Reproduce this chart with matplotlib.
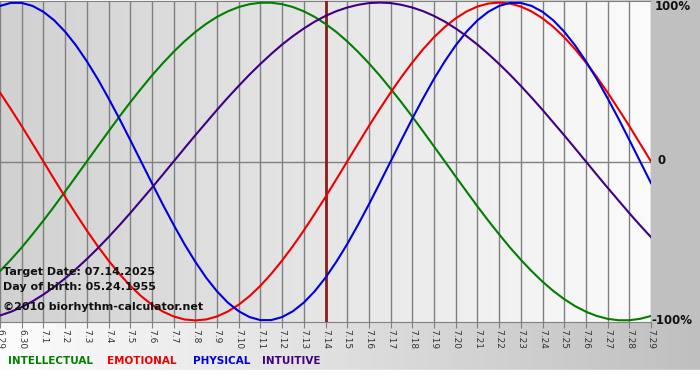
import numpy as np
import matplotlib
matplotlib.use("Agg")
import matplotlib.pyplot as plt

# dates shown on the x axis (one per day)
dates = ["6.29", "6.30"] + ["7." + str(d) for d in range(1, 30)]

# cycle values, one every half day (6.29 .. 7.29)
physical = [0.979, 0.998, 0.998, 0.979, 0.942, 0.888, 0.817, 0.731, 0.631, 0.520, 0.398,
            0.270, 0.136, 0.0, -0.136, -0.270, -0.398, -0.520, -0.631, -0.731, -0.817,
            -0.888, -0.942, -0.979, -0.998, -0.998, -0.979, -0.942, -0.888, -0.817, -0.731,
            -0.631, -0.520, -0.398, -0.270, -0.136, 0.0, 0.136, 0.270, 0.398, 0.520,
            0.631, 0.731, 0.817, 0.888, 0.942, 0.979, 0.998, 0.998, 0.979, 0.942,
            0.888, 0.817, 0.731, 0.631, 0.520, 0.398, 0.270, 0.136, 0.0, -0.136]
emotional = [0.434, 0.330, 0.223, 0.112, 0.0, -0.112, -0.223, -0.330, -0.434, -0.532, -0.623,
             -0.707, -0.782, -0.847, -0.901, -0.944, -0.975, -0.994, -1.0, -0.994, -0.975,
             -0.944, -0.901, -0.847, -0.782, -0.707, -0.623, -0.532, -0.434, -0.330, -0.223,
             -0.112, 0.0, 0.112, 0.223, 0.330, 0.434, 0.532, 0.623, 0.707, 0.782,
             0.847, 0.901, 0.944, 0.975, 0.994, 1.0, 0.994, 0.975, 0.944, 0.901,
             0.847, 0.782, 0.707, 0.623, 0.532, 0.434, 0.330, 0.223, 0.112, 0.0]
intellectual = [-0.690, -0.618, -0.541, -0.458, -0.372, -0.282, -0.189, -0.095, 0.0, 0.095,
                0.189, 0.282, 0.372, 0.458, 0.541, 0.618, 0.690, 0.756, 0.815, 0.866,
                0.910, 0.945, 0.972, 0.990, 0.999, 0.999, 0.990, 0.972, 0.945, 0.910,
                0.866, 0.815, 0.756, 0.690, 0.618, 0.541, 0.458, 0.372, 0.282, 0.189,
                0.095, 0.0, -0.095, -0.189, -0.282, -0.372, -0.458, -0.541, -0.618, -0.690,
                -0.756, -0.815, -0.866, -0.910, -0.945, -0.972, -0.990, -0.999, -0.999,
                -0.990, -0.972]
intuitive = [-0.969, -0.946, -0.916, -0.880, -0.837, -0.789, -0.736, -0.677, -0.614, -0.547,
             -0.476, -0.402, -0.325, -0.245, -0.165, -0.083, 0.0, 0.083, 0.165, 0.245,
             0.325, 0.402, 0.476, 0.547, 0.614, 0.677, 0.736, 0.789, 0.837, 0.880,
             0.916, 0.946, 0.969, 0.986, 0.997, 1.0, 0.997, 0.986, 0.969, 0.946,
             0.916, 0.880, 0.837, 0.789, 0.736, 0.677, 0.614, 0.547, 0.476, 0.402,
             0.325, 0.245, 0.165, 0.083, 0.0, -0.083, -0.165, -0.245, -0.325, -0.402,
             -0.476]
target_idx = dates.index("7.14")

fig = plt.figure(figsize=(7, 3.8), dpi=100)

# background of the whole picture
bg = fig.add_axes([0, 0, 1, 1])
grad = np.linspace(0.99, 0.75, 256).reshape(1, -1)
bg.imshow(np.dstack([grad] * 3), aspect="auto", extent=[0, 1, 10 / 380, 1])
bg.axhspan(0, 10 / 380, color="white")
bg.axvspan(651 / 700, 1, ymin=58 / 380, color="#c0c0c0")
bg.set_xlim(0, 1)
bg.set_ylim(0, 1)
bg.axis("off")

ax = fig.add_axes([0, 1 - 322 / 380, 651 / 700, 321 / 380])
x = np.arange(len(dates))
xh = np.arange(len(physical)) / 2
g = np.linspace(0.82, 0.985, 256).reshape(1, -1)
ax.imshow(np.dstack([g] * 3), aspect="auto", extent=[0, len(dates) - 1, -1.01, 1.01], zorder=0)
ax.set_xlim(0, len(dates) - 1)
ax.set_ylim(-1.01, 1.01)

for xi in x:
    ax.axvline(xi, color="#808080", lw=1, zorder=1)
ax.axhline(0, color="#808080", lw=1, zorder=1)
ax.axhline(1.01, color="#808080", lw=1.5, zorder=1)

ax.axvline(target_idx, color="#8b1c1c", lw=2, zorder=3)

ax.plot(xh, intellectual, color="#007f00", lw=1.5, zorder=4)
ax.plot(xh, emotional, color="#ee0000", lw=1.5, zorder=4)
ax.plot(xh, physical, color="#0000dd", lw=1.5, zorder=4)
ax.plot(xh, intuitive, color="#400080", lw=1.5, zorder=4)

for s in ax.spines.values():
    s.set_visible(False)
ax.spines["bottom"].set_visible(True)
ax.spines["bottom"].set_color("#808080")
ax.set_xticks(x)
ax.set_xticklabels(dates, rotation=-90, fontsize=6.5, color="#333333")
ax.tick_params(axis="x", length=4, color="#808080", pad=1)
ax.set_yticks([])

info = dict(fontsize=8, fontweight="bold", color="#111111", va="center", zorder=5)
fig.text(3 / 700, 1 - 272 / 380, "Target Date: 07.14.2025", **info)
fig.text(3 / 700, 1 - 287 / 380, "Day of birth: 05.24.1955", **info)
fig.text(3 / 700, 1 - 307 / 380, "\u00a92010 biorhythm-calculator.net", **info)

rl = dict(fontsize=8.5, fontweight="bold", color="#111111", va="center")
fig.text(655 / 700, 1 - 7 / 380, "100%", **rl)
fig.text(658 / 700, 1 - 161 / 380, "0", **rl)
fig.text(651 / 700, 1 - 321 / 380, "-100%", **rl)

legend = [("INTELLECTUAL", "#007f00", 8), ("EMOTIONAL", "#ee0000", 107),
          ("PHYSICAL", "#0000dd", 193), ("INTUITIVE", "#400080", 262)]
for name, col, px in legend:
    fig.text(px / 700, 1 - 361 / 380, name, color=col, fontsize=7.5,
             fontweight="bold", va="center")

fig.savefig("out.png", dpi=100)
